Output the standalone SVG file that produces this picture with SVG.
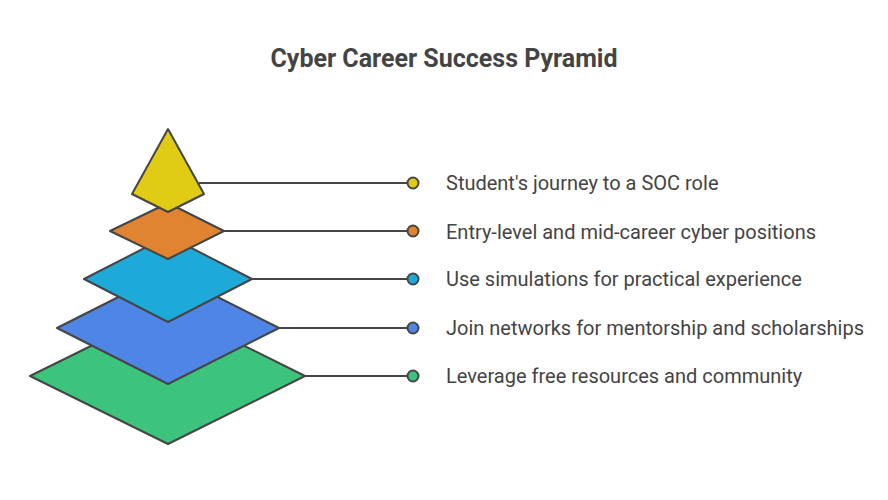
<svg xmlns="http://www.w3.org/2000/svg" width="888" height="500" viewBox="0 0 888 500">
<style>
.s{stroke:#454545;stroke-width:2;stroke-linejoin:round}
.t{font-family:Roboto,"Liberation Sans",sans-serif;font-size:20px;fill:#444}
.c{stroke:#454545;stroke-width:2;fill:none}
</style>
<rect width="888" height="500" fill="#fff"/>
<text x="444" y="67" text-anchor="middle" font-family="Roboto,'Liberation Sans',sans-serif" font-size="25" font-weight="bold" fill="#444">Cyber Career Success Pyramid</text>
<g id="connectors">
<path class="c" d="M305 376H413M279 328H413M252 279H413M224 231H413M199 183H413"/>
</g>
<g id="l5"><path class="s" fill="#3cc47c" d="M30 376L168 308L305 376L168 444Z"/><circle class="s" cx="413" cy="376" r="5.5" fill="#3cc47c"/><text class="t" x="446" y="383">Leverage free resources and community</text></g>
<g id="l4"><path class="s" fill="#4f86e6" d="M57 328L168 272L279 328L168 384Z"/><circle class="s" cx="413" cy="328" r="5.5" fill="#4f86e6"/><text class="t" x="446" y="335">Join networks for mentorship and scholarships</text></g>
<g id="l3"><path class="s" fill="#1eaad9" d="M84 279L168 236L252 279L168 322Z"/><circle class="s" cx="413" cy="279" r="5.5" fill="#1eaad9"/><text class="t" x="446" y="286">Use simulations for practical experience</text></g>
<g id="l2"><path class="s" fill="#e08432" d="M110 231L168 203L224 231L168 259Z"/><circle class="s" cx="413" cy="231" r="5.5" fill="#e08432"/><text class="t" x="446" y="239">Entry-level and mid-career cyber positions</text></g>
<g id="l1"><path class="s" fill="#e0cb15" d="M168 129L204 194L168 212L132 194Z"/><circle class="s" cx="413" cy="183" r="5.5" fill="#e0cb15"/><text class="t" x="446" y="190">Student's journey to a SOC role</text></g>
</svg>
